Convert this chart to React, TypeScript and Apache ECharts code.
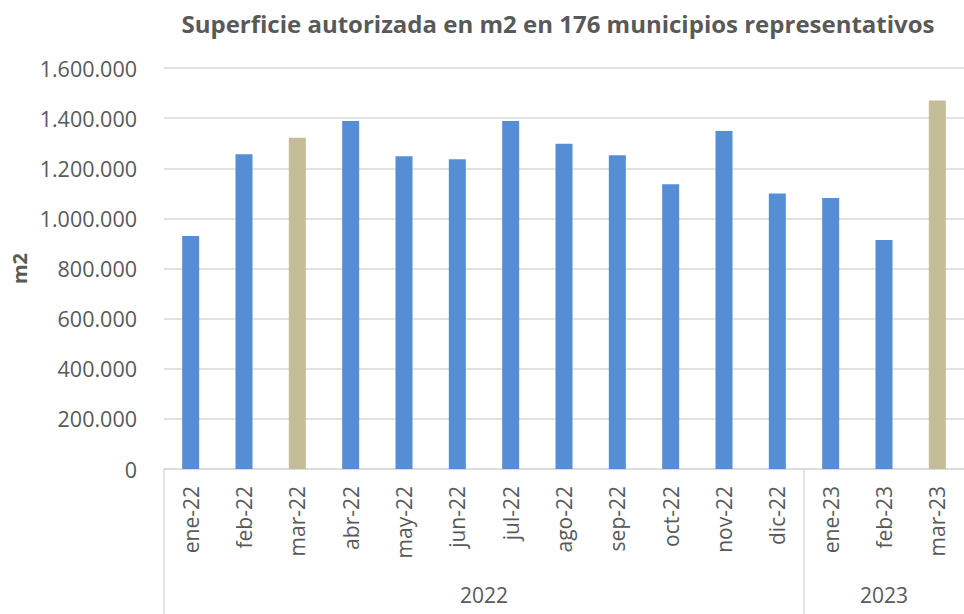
import React, { useEffect, useRef } from "react";
import * as echarts from "echarts";

const months = [
  "ene-22", "feb-22", "mar-22", "abr-22", "may-22", "jun-22", "jul-22", "ago-22",
  "sep-22", "oct-22", "nov-22", "dic-22", "ene-23", "feb-23", "mar-23",
];
const values = [
  930000, 1256000, 1322000, 1389000, 1248000, 1236000, 1389000, 1298000,
  1252000, 1136000, 1349000, 1099000, 1081000, 914000, 1470000,
];
const highlighted = ["mar-22", "mar-23"];
const years = ["2022", "2023"];
const yearSpans = [[0, 11], [12, 14]];

const BLUE = "#558ED5";
const TAN = "#C4BD97";
const TEXT = "#595959";
const FONT = "'Open Sans', 'Noto Sans', sans-serif";

function fmt(v: number): string {
  return String(Math.round(v)).replace(/\B(?=(\d{3})+(?!\d))/g, ".");
}

export default function App() {
  const ref = useRef<HTMLDivElement>(null);
  useEffect(() => {
    if (!ref.current) return;
    const chart = echarts.init(ref.current, undefined, { renderer: "svg" });
    chart.setOption({
      animation: false,
      backgroundColor: "#ffffff",
      title: {
        text: "Superficie autorizada en m2 en 176 municipios representativos",
        left: 553,
        textAlign: "center",
        top: 6,
        textStyle: { color: TEXT, fontSize: 24, fontWeight: "bold", fontFamily: FONT },
      },
      grid: { left: 164, right: 0, top: 68, bottom: 145, containLabel: false },
      xAxis: {
        type: "category",
        data: months,
        axisLine: { show: true, lineStyle: { color: "#d9d9d9", width: 1.5 } },
        axisTick: { show: false },
        axisLabel: {
          rotate: 90,
          color: TEXT,
          fontSize: 21,
          fontFamily: FONT,
          margin: 17,
          interval: 0,
        },
      },
      yAxis: {
        type: "value",
        min: 0,
        max: 1600000,
        interval: 200000,
        name: "m2",
        nameLocation: "middle",
        nameGap: 135,
        nameMoveOverlap: false,
        nameTextStyle: { color: TEXT, fontSize: 20, fontWeight: "bold", fontFamily: FONT },
        axisLine: { show: false },
        axisTick: { show: false },
        axisLabel: {
          color: TEXT,
          fontSize: 21.5,
          fontFamily: FONT,
          margin: 27,
          formatter: (v: number) => fmt(v),
        },
        splitLine: { lineStyle: { color: "#d9d9d9", width: 1.5 } },
      },
      series: [
        {
          type: "bar",
          barWidth: 17,
          data: values.map((v, i) => ({
            value: v,
            itemStyle: {
              color: highlighted.includes(months[i]) ? TAN : BLUE,
            },
          })),
        },
      ],
    });

    const half = (chart.convertToPixel({ xAxisIndex: 0 }, 1) as number) -
      (chart.convertToPixel({ xAxisIndex: 0 }, 0) as number);
    const graphics: any[] = [];
    yearSpans.forEach((span, k) => {
      const x0 = (chart.convertToPixel({ xAxisIndex: 0 }, span[0]) as number) - half / 2;
      const x1 = (chart.convertToPixel({ xAxisIndex: 0 }, span[1]) as number) + half / 2;
      graphics.push({
        type: "text",
        x: (x0 + x1) / 2,
        y: 595,
        style: {
          text: years[k],
          fill: TEXT,
          fontSize: 21,
          fontFamily: FONT,
          align: "center",
          verticalAlign: "middle",
        },
      });
      graphics.push({
        type: "line",
        shape: { x1: x0, y1: 469, x2: x0, y2: 614 },
        style: { stroke: "#d9d9d9", lineWidth: 1.5 },
      });
    });
    chart.setOption({ graphic: graphics });

    return () => chart.dispose();
  }, []);
  return <div ref={ref} style={{ width: 964, height: 614, position: "absolute", left: 0, top: 0 }} />;
}
